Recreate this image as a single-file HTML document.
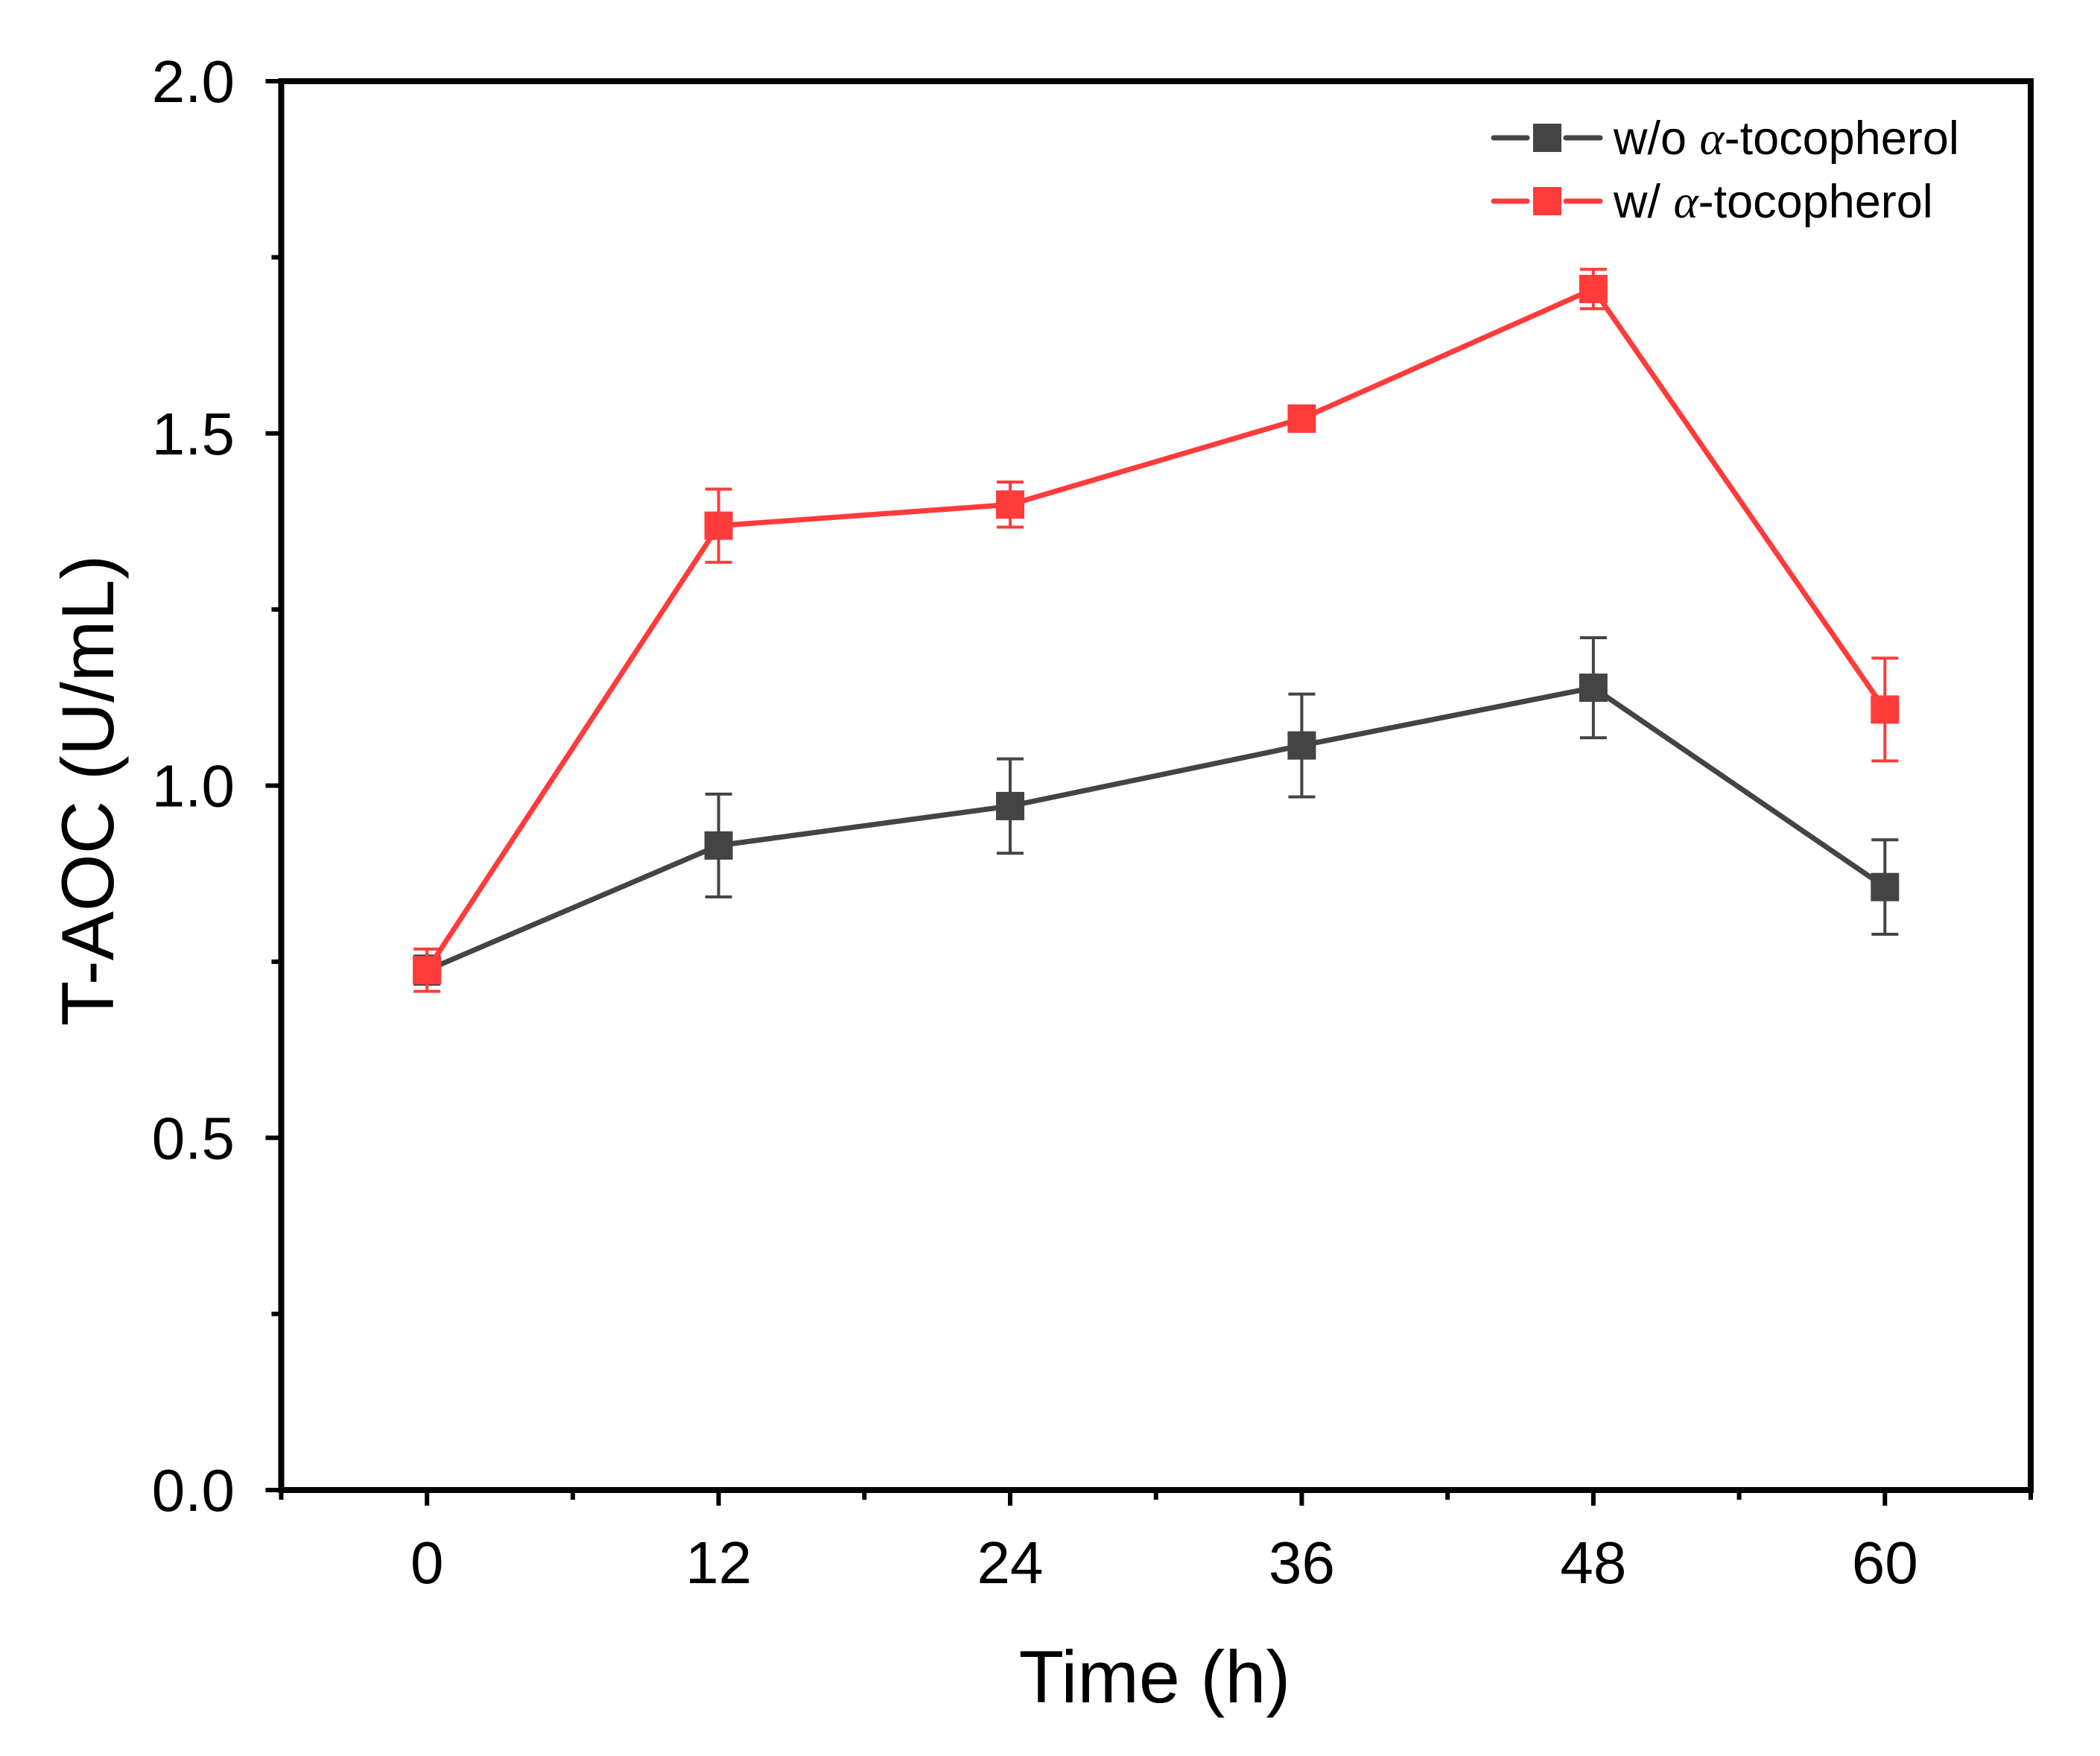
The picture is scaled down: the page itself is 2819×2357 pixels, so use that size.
<!DOCTYPE html>
<html><head><meta charset="utf-8"><style>
html,body{margin:0;padding:0;background:#fff;}
svg{display:block;font-family:"Liberation Sans",Arial,sans-serif;}
</style></head><body>
<svg id="chart" width="2819" height="2357" viewBox="0 0 2819 2357" xmlns="http://www.w3.org/2000/svg">
<rect width="2819" height="2357" fill="#fff"/>
<g id="plot"></g>
</svg>
<script>
const times = [0, 12, 24, 36, 48, 60];
const woValues = [0.738, 0.915, 0.971, 1.057, 1.139, 0.856];
const woErrors = [0.02, 0.073, 0.067, 0.073, 0.071, 0.067];
const wValues = [0.738, 1.369, 1.399, 1.521, 1.705, 1.108];
const wErrors = [0.03, 0.052, 0.032, 0.018, 0.028, 0.073];
const yTicks = [0, 0.5, 1.0, 1.5, 2.0];
const yTickLabels = ["0.0", "0.5", "1.0", "1.5", "2.0"];
const xTickLabels = ["0", "12", "24", "36", "48", "60"];

const L = 377.5, R = 2726, T = 109, B = 2000;
const xMin = -6, xMax = 66, yMin = 0, yMax = 2;
const xs = v => L + (v - xMin) / (xMax - xMin) * (R - L);
const ys = v => B - (v - yMin) / (yMax - yMin) * (B - T);
const NS = "http://www.w3.org/2000/svg";
const g = document.getElementById('plot');
function mk(tag, attrs, parent) {
  const e = document.createElementNS(NS, tag);
  for (const k in attrs) e.setAttribute(k, attrs[k]);
  (parent || g).appendChild(e);
  return e;
}
let e = mk('rect', {x: L, y: T, width: R - L, height: B - T, fill: 'none', stroke: '#000', 'stroke-width': 8});


for (let v = 0; v <= 2.0001; v += 0.25) {
  const major = Math.abs(v * 2 - Math.round(v * 2)) < 1e-6;
  const t = mk('line', {x1: L, x2: L - (major ? 21 : 13), y1: ys(v), y2: ys(v), stroke: '#000', 'stroke-width': 6});
  
  
}
yTicks.forEach((v, i) => {
  const t = mk('text', {x: 315, y: ys(v) + 28, 'text-anchor': 'end', 'font-size': 80, fill: '#000'});
  t.textContent = yTickLabels[i];
  
  
});
for (let v = -6; v <= 66; v += 6) {
  const major = v % 12 === 0;
  const t = mk('line', {x1: xs(v), x2: xs(v), y1: B, y2: B + (major ? 21 : 13), stroke: '#000', 'stroke-width': 6});
  
  
}
times.forEach((v, i) => {
  const t = mk('text', {x: xs(v), y: 2125, 'text-anchor': 'middle', 'font-size': 80, fill: '#000'});
  t.textContent = xTickLabels[i];
  
  
});
e = mk('text', {x: 1550, y: 2285, 'text-anchor': 'middle', 'font-size': 99, fill: '#000'});
e.textContent = 'Time (h)';


e = mk('text', {x: 0, y: 0, 'text-anchor': 'middle', 'font-size': 99, fill: '#000', transform: 'translate(152,1061) rotate(-90)'});
e.textContent = 'T-AOC (U/mL)';



function series(vals, errs, color, name) {
  const sg = mk('g', {});
  
  
  const pts = times.map((t, i) => xs(t) + ',' + ys(vals[i])).join(' ');
  const pl = mk('polyline', {points: pts, fill: 'none', stroke: color, 'stroke-width': 7, 'stroke-linejoin': 'round'}, sg);
  
  
  times.forEach((t, i) => {
    const x = xs(t), y1 = ys(vals[i] + errs[i]), y2 = ys(vals[i] - errs[i]);
    const eb = mk('path', {d: `M${x},${y1}V${y2}M${x-18},${y1}H${x+18}M${x-18},${y2}H${x+18}`, stroke: color, 'stroke-width': 4, fill: 'none'}, sg);
    
    
    const m = mk('rect', {x: x - 19, y: ys(vals[i]) - 19, width: 38, height: 38, fill: color}, sg);
    
    
  });
}
series(woValues, woErrors, '#444444', 'wo-tocopherol-series');
series(wValues, wErrors, '#ff3b3b', 'w-tocopherol-series');

const legend = [['w/o ', '#444444', 185, 'legend-entry-wo'], ['w/ ', '#ff3b3b', 270, 'legend-entry-w']];
legend.forEach(([label, color, y, nm]) => {
  const lg = mk('g', {});
  
  
  mk('line', {x1: 2005, x2: 2050, y1: y, y2: y, stroke: color, 'stroke-width': 7, 'stroke-linecap': 'round'}, lg);
  mk('line', {x1: 2102, x2: 2148, y1: y, y2: y, stroke: color, 'stroke-width': 7, 'stroke-linecap': 'round'}, lg);
  mk('rect', {x: 2058, y: y - 19, width: 38, height: 38, fill: color}, lg);
  const t = mk('text', {x: 2166, y: y + 22, 'font-size': 63, fill: '#000'}, lg);
  const a = document.createElementNS(NS, 'tspan');
  a.textContent = label;
  t.appendChild(a);
  const b = document.createElementNS(NS, 'tspan');
  b.setAttribute('font-family', '"Liberation Serif", serif');
  b.setAttribute('font-style', 'italic');
  b.textContent = 'α';
  t.appendChild(b);
  const c = document.createElementNS(NS, 'tspan');
  c.textContent = '-tocopherol';
  t.appendChild(c);
});
</script>
</body></html>
